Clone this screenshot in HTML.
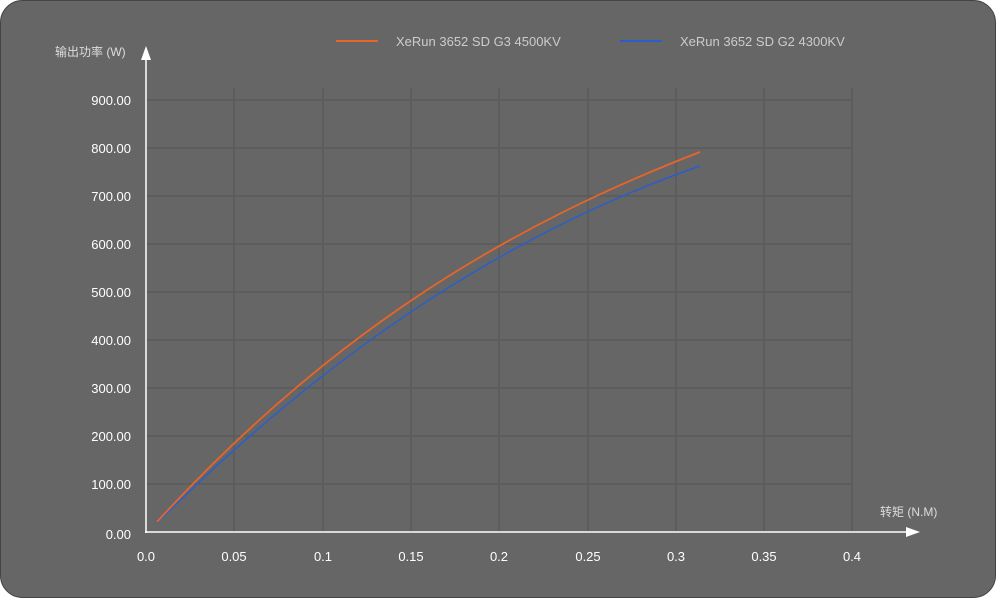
<!DOCTYPE html>
<html><head><meta charset="utf-8"><style>
body{margin:0;background:#fff;}
svg{display:block;font-family:"Liberation Sans","Noto Sans CJK SC",sans-serif;}
</style></head><body>
<svg width="996" height="598" viewBox="0 0 996 598">
<rect x="0.5" y="0.5" width="995" height="597" rx="22" fill="#666" stroke="#444"/>
<g stroke="#5a5a5a" stroke-width="1.5">
<line x1="146" y1="100" x2="852" y2="100"/><line x1="146" y1="148" x2="852" y2="148"/>
<line x1="146" y1="196" x2="852" y2="196"/><line x1="146" y1="244" x2="852" y2="244"/>
<line x1="146" y1="292" x2="852" y2="292"/><line x1="146" y1="340" x2="852" y2="340"/>
<line x1="146" y1="388" x2="852" y2="388"/><line x1="146" y1="436" x2="852" y2="436"/>
<line x1="146" y1="484" x2="852" y2="484"/>
<line x1="234" y1="88" x2="234" y2="532"/><line x1="323" y1="88" x2="323" y2="532"/>
<line x1="411" y1="88" x2="411" y2="532"/><line x1="499" y1="88" x2="499" y2="532"/>
<line x1="588" y1="88" x2="588" y2="532"/><line x1="676" y1="88" x2="676" y2="532"/>
<line x1="764" y1="88" x2="764" y2="532"/><line x1="852" y1="88" x2="852" y2="532"/>
</g>
<g stroke="#fff" stroke-width="1.5" fill="none">
<line x1="146" y1="55" x2="146" y2="533"/><line x1="145" y1="532" x2="912" y2="532"/>
</g>
<polygon points="146,46 141,60 151,60" fill="#fff"/>
<polygon points="920,532 906,527 906,537" fill="#fff"/>
<g fill="#fff" font-size="13" text-anchor="end">
<text x="131" y="105">900.00</text><text x="131" y="153">800.00</text><text x="131" y="201">700.00</text>
<text x="131" y="249">600.00</text><text x="131" y="297">500.00</text><text x="131" y="345">400.00</text>
<text x="131" y="393">300.00</text><text x="131" y="441">200.00</text><text x="131" y="489">100.00</text>
<text x="131" y="539">0.00</text>
</g>
<g fill="#fff" font-size="13" text-anchor="middle">
<text x="146" y="561">0.0</text><text x="234" y="561">0.05</text><text x="323" y="561">0.1</text>
<text x="411" y="561">0.15</text><text x="499" y="561">0.2</text><text x="588" y="561">0.25</text>
<text x="676" y="561">0.3</text><text x="764" y="561">0.35</text><text x="852" y="561">0.4</text>
</g>
<text x="55" y="56" fill="#ddd" font-size="12">输出功率 (W)</text>
<text x="880" y="516" fill="#ddd" font-size="12">转矩 (N.M)</text>
<line x1="336" y1="41" x2="378" y2="41" stroke="#e8652a" stroke-width="2"/>
<text x="396" y="46" fill="#ccc" font-size="13">XeRun 3652 SD G3 4500KV</text>
<line x1="620" y1="41" x2="662" y2="41" stroke="#2a5fc8" stroke-width="2"/>
<text x="680" y="46" fill="#ccc" font-size="13">XeRun 3652 SD G2 4300KV</text>
<path d="M157,523 C338,342 519,229 700,166" fill="none" stroke="#2a5fc8" stroke-width="1.5"/>
<path d="M157,522 C338,324 519,222 700,152" fill="none" stroke="#e8652a" stroke-width="1.8"/>
</svg>
</body></html>
